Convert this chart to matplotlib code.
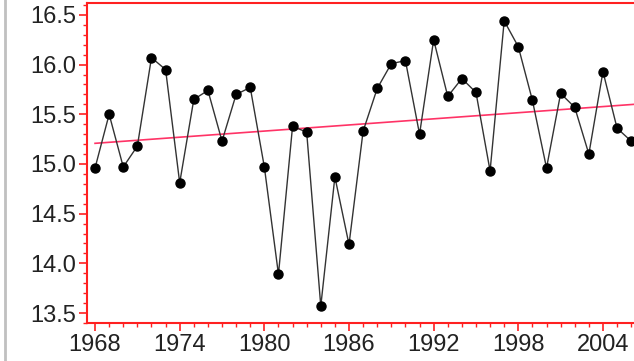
import numpy as np
import matplotlib
matplotlib.use("Agg")
import matplotlib.pyplot as plt
from matplotlib.lines import Line2D
from matplotlib.ticker import MultipleLocator

years = list(range(1968, 2007))
values = [14.96, 15.50, 14.97, 15.18, 16.07, 15.95, 14.81, 15.65, 15.74, 15.23,
          15.70, 15.77, 14.97, 13.89, 15.38, 15.32, 13.57, 14.87, 14.19, 15.33,
          15.76, 16.01, 16.04, 15.30, 16.25, 15.68, 15.86, 15.72, 14.93, 16.44,
          16.18, 15.64, 14.96, 15.71, 15.57, 15.10, 15.93, 15.36, 15.23]
xticks = [1968, 1974, 1980, 1986, 1992, 1998, 2004]
yticks = [13.5, 14.0, 14.5, 15.0, 15.5, 16.0, 16.5]

plt.rcParams['font.family'] = ['Liberation Sans', 'DejaVu Sans']

fig = plt.figure(figsize=(6.34, 3.61), dpi=100)
ax = fig.add_axes([87/634, 1 - 323/361, 1 - 87/634, (323 - 3)/361])

x = np.array(years, dtype=float)
y = np.array(values)
k, b = np.polyfit(x, y, 1)
xt = np.array([1968, 2006.3])
ax.plot(xt, k * xt + b, color='#ff3366', lw=1.2, zorder=2)
ax.plot(x, y, color='#333333', lw=1.0, marker='o', ms=6.5,
        mfc='black', mec='black', zorder=3)

ax.set_xlim(1967.43, 2006.2)
ax.set_ylim(13.4, 16.62)
ax.set_xticks(xticks)
ax.set_yticks(yticks)
ax.set_yticklabels([f"{v:.1f}" for v in yticks])
ax.xaxis.set_minor_locator(MultipleLocator(1))
ax.yaxis.set_minor_locator(MultipleLocator(0.1))

for s in ['left', 'bottom', 'top']:
    ax.spines[s].set_color('#ff2020')
    ax.spines[s].set_linewidth(1.5)
ax.spines['right'].set_visible(False)

ax.tick_params(which='major', direction='out', length=6, width=1.2,
               color='#ff2020', labelsize=17, labelcolor='#222222', pad=2)
ax.tick_params(which='minor', direction='out', length=3, width=1.0,
               color='#ff2020')
ax.tick_params(top=False, right=False, which='both')

fig.add_artist(Line2D([4.5/634, 4.5/634], [0, 1], color='#c0c0c0', lw=2,
                      transform=fig.transFigure))

fig.savefig('out.png', dpi=100)
